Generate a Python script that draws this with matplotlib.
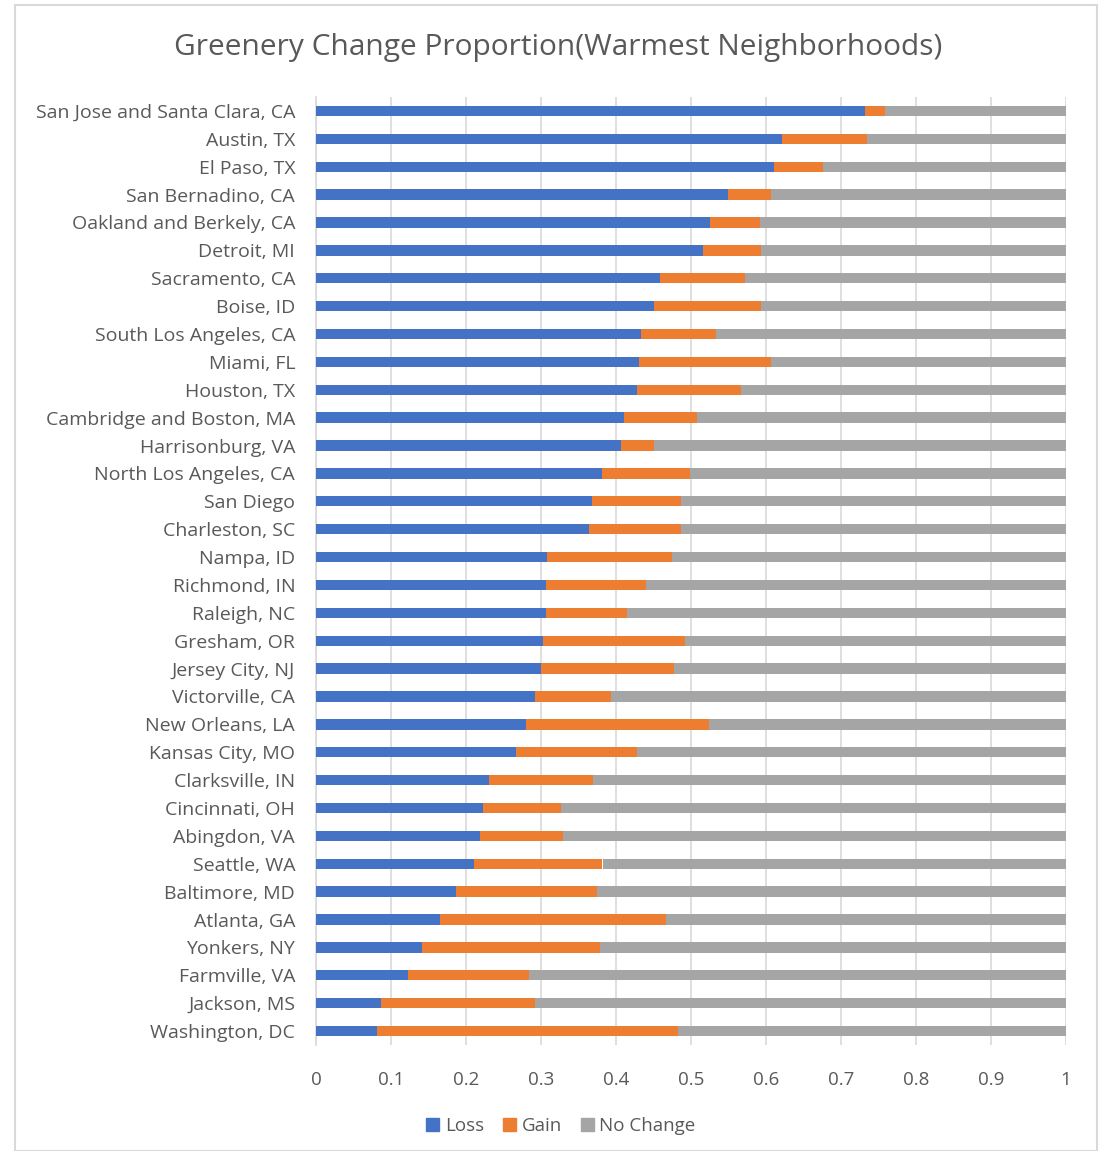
import matplotlib
matplotlib.use("Agg")
import matplotlib.pyplot as plt
from matplotlib.patches import Rectangle, Patch
import numpy as np

cities = [
    "San Jose and Santa Clara, CA", "Austin, TX", "El Paso, TX", "San Bernadino, CA",
    "Oakland and Berkely, CA", "Detroit, MI", "Sacramento, CA", "Boise, ID",
    "South Los Angeles, CA", "Miami, FL", "Houston, TX", "Cambridge and Boston, MA",
    "Harrisonburg, VA", "North Los Angeles, CA", "San Diego", "Charleston, SC",
    "Nampa, ID", "Richmond, IN", "Raleigh, NC", "Gresham, OR", "Jersey City, NJ",
    "Victorville, CA", "New Orleans, LA", "Kansas City, MO", "Clarksville, IN",
    "Cincinnati, OH", "Abingdon, VA", "Seattle, WA", "Baltimore, MD", "Atlanta, GA",
    "Yonkers, NY", "Farmville, VA", "Jackson, MS", "Washington, DC",
]

loss = [0.732, 0.621, 0.610, 0.549, 0.525, 0.516, 0.458, 0.451, 0.433, 0.430,
        0.428, 0.410, 0.406, 0.381, 0.368, 0.364, 0.308, 0.307, 0.307, 0.302,
        0.300, 0.292, 0.280, 0.266, 0.231, 0.222, 0.218, 0.210, 0.187, 0.165,
        0.141, 0.123, 0.086, 0.081]

gain = [0.027, 0.114, 0.066, 0.058, 0.067, 0.077, 0.114, 0.142, 0.100, 0.177,
        0.138, 0.098, 0.044, 0.117, 0.118, 0.123, 0.166, 0.133, 0.108, 0.190,
        0.177, 0.101, 0.244, 0.162, 0.138, 0.105, 0.111, 0.172, 0.187, 0.302,
        0.238, 0.161, 0.206, 0.401]

no_change = [round(1 - l - g, 3) for l, g in zip(loss, gain)]

xticks = [0, 0.1, 0.2, 0.3, 0.4, 0.5, 0.6, 0.7, 0.8, 0.9, 1]
xtick_labels = ["0", "0.1", "0.2", "0.3", "0.4", "0.5", "0.6", "0.7", "0.8", "0.9", "1"]

C_LOSS, C_GAIN, C_NC = "#4472C4", "#ED7D31", "#A5A5A5"
TXT = "#595959"

plt.rcParams['font.family'] = ['Open Sans', 'DejaVu Sans']

fig = plt.figure(figsize=(11.02, 11.51), dpi=100)
W, H = 1102, 1151
ax = fig.add_axes([316 / W, 1 - 1045 / H, 750 / W, 948 / H])

y = np.arange(len(cities))
h = 0.37
l_arr = np.array(loss)
g_arr = np.array(gain)
n_arr = np.array(no_change)
ax.barh(y, l_arr, height=h, color=C_LOSS, label="Loss", zorder=3)
ax.barh(y, g_arr, left=l_arr, height=h, color=C_GAIN, label="Gain", zorder=3)
ax.barh(y, n_arr, left=l_arr + g_arr, height=h, color=C_NC, label="No Change", zorder=3)

ax.set_xlim(0, 1)
ax.set_ylim(len(cities) - 0.5, -0.5)
ax.set_yticks(y)
ax.set_yticklabels(cities, fontsize=14, color=TXT)
ax.set_xticks(xticks)
ax.set_xticklabels(xtick_labels, fontsize=13.5, color=TXT)
ax.tick_params(axis='both', length=0)
ax.tick_params(axis='y', pad=15)
ax.tick_params(axis='x', pad=19)
ax.grid(axis='x', color="#D9D9D9", linewidth=1.2, zorder=0)
for s in ["top", "right", "bottom"]:
    ax.spines[s].set_visible(False)
ax.spines["left"].set_color("#D9D9D9")
ax.spines["left"].set_linewidth(1.2)

fig.text(558 / W, 1 - 47 / H, "Greenery Change Proportion(Warmest Neighborhoods)",
         ha="center", va="center", fontsize=21.5, color=TXT)

handles = [Patch(color=C_LOSS, label="Loss"), Patch(color=C_GAIN, label="Gain"),
           Patch(color=C_NC, label="No Change")]
fig.legend(handles=handles, loc="center", bbox_to_anchor=(561 / W, 1 - 1126 / H),
           ncol=3, frameon=False, fontsize=13.5, handlelength=0.7, handleheight=0.7,
           handletextpad=0.3, columnspacing=1.0, labelcolor=TXT)

fig.patches.append(Rectangle((15 / W, 0), (1097 - 15) / W, 1 - 5 / H,
                             transform=fig.transFigure, fill=False,
                             edgecolor="#D9D9D9", linewidth=1.5))

fig.savefig("out.png", dpi=100, facecolor="white")
